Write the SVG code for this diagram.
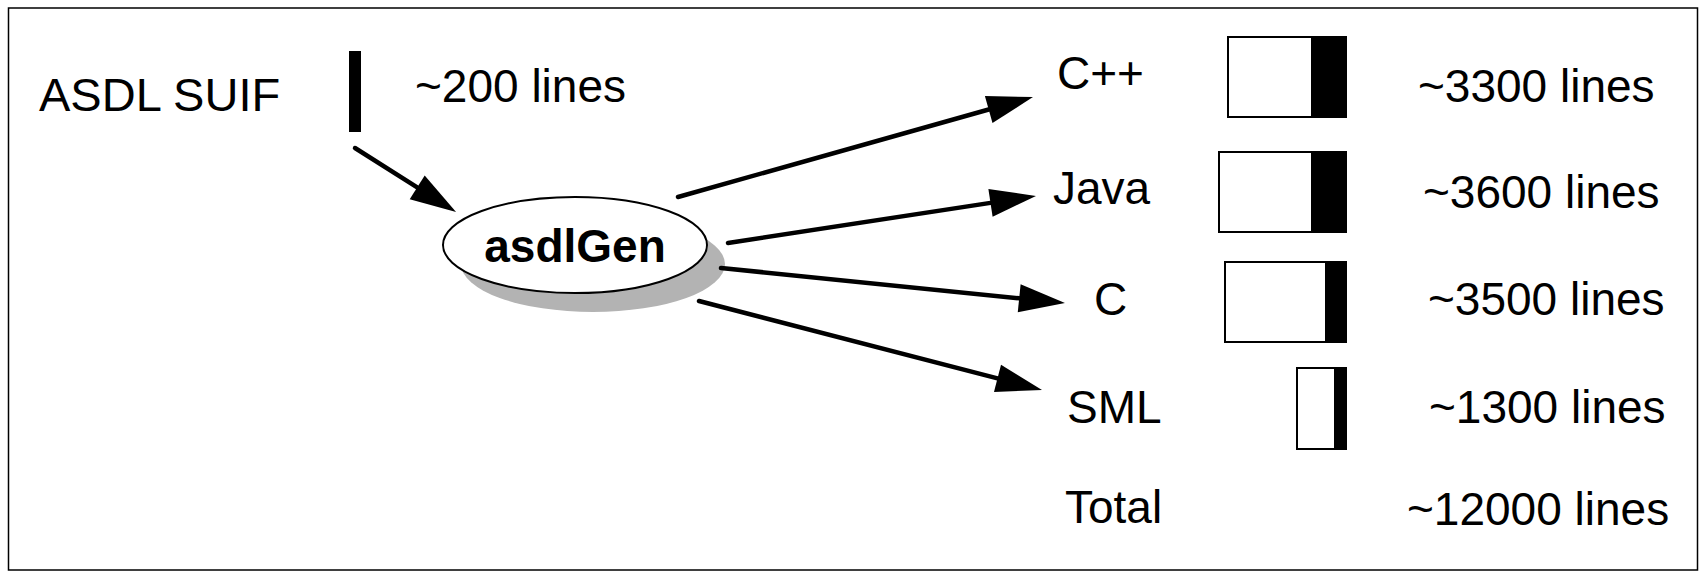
<svg xmlns="http://www.w3.org/2000/svg" width="1700" height="572" viewBox="0 0 1700 572">
  <style>
    text { font-family: "Liberation Sans", Arial, sans-serif; font-size: 46px; fill: #000; }
    .bold { font-weight: bold; font-size: 46px; }
    .edge { stroke: #000; stroke-width: 4.5; fill: none; stroke-linecap: round; marker-end: url(#head); }
    .bar { fill: #fff; stroke: #000; stroke-width: 2; }
    .fill { fill: #000; }
  </style>
  <defs>
    <marker id="head" markerUnits="userSpaceOnUse" markerWidth="46" markerHeight="28" refX="0" refY="14" orient="auto" overflow="visible">
      <path d="M0,0 L46,14 L0,28 Z" fill="#000"/>
    </marker>
  </defs>

  <rect x="0" y="0" width="1700" height="572" fill="#fff"/>
  <!-- frame -->
  <rect x="8.5" y="8" width="1689" height="562" fill="none" stroke="#000" stroke-width="1.5"/>

  <!-- source node -->
  <g id="asdl-suif">
    <text x="39" y="111" style="font-size:47px">ASDL SUIF</text>
    <rect x="349" y="51" width="12" height="81" class="fill"/>
    <text x="415" y="102">~200 lines</text>
  </g>

  <!-- generator node -->
  <g id="asdlgen">
    <ellipse cx="593" cy="264" rx="132" ry="48" fill="#b3b3b3"/>
    <ellipse cx="575" cy="245" rx="132" ry="48" fill="#fff" stroke="#000" stroke-width="2"/>
    <text class="bold" x="575" y="262" text-anchor="middle">asdlGen</text>
  </g>

  <!-- output languages -->
  <g id="cpp">
    <text x="1057" y="89">C++</text>
    <rect x="1228" y="37" width="118" height="80" class="bar"/>
    <rect x="1311" y="37" width="35" height="80" class="fill"/>
    <text x="1418" y="102">~3300 lines</text>
  </g>
  <g id="java">
    <text x="1053" y="204">Java</text>
    <rect x="1219" y="152" width="127" height="80" class="bar"/>
    <rect x="1311" y="152" width="35" height="80" class="fill"/>
    <text x="1423" y="208">~3600 lines</text>
  </g>
  <g id="c">
    <text x="1094" y="315">C</text>
    <rect x="1225" y="262" width="121" height="80" class="bar"/>
    <rect x="1325" y="262" width="21" height="80" class="fill"/>
    <text x="1428" y="315">~3500 lines</text>
  </g>
  <g id="sml">
    <text x="1067" y="423">SML</text>
    <rect x="1297" y="368" width="49" height="81" class="bar"/>
    <rect x="1334" y="368" width="12" height="81" class="fill"/>
    <text x="1429" y="423">~1300 lines</text>
  </g>
  <g id="total">
    <text x="1065" y="523">Total</text>
    <text x="1407" y="525">~12000 lines</text>
  </g>

  <!-- connectors -->
  <g id="connectors">
    <line class="edge" x1="355" y1="148" x2="417.2" y2="187.4"/>
    <line class="edge" x1="678" y1="197" x2="988.7" y2="109.5"/>
    <line class="edge" x1="728" y1="243" x2="990.5" y2="202.9"/>
    <line class="edge" x1="721" y1="268" x2="1019.2" y2="298.3"/>
    <line class="edge" x1="699" y1="301" x2="997.5" y2="378.4"/>
  </g>
</svg>
